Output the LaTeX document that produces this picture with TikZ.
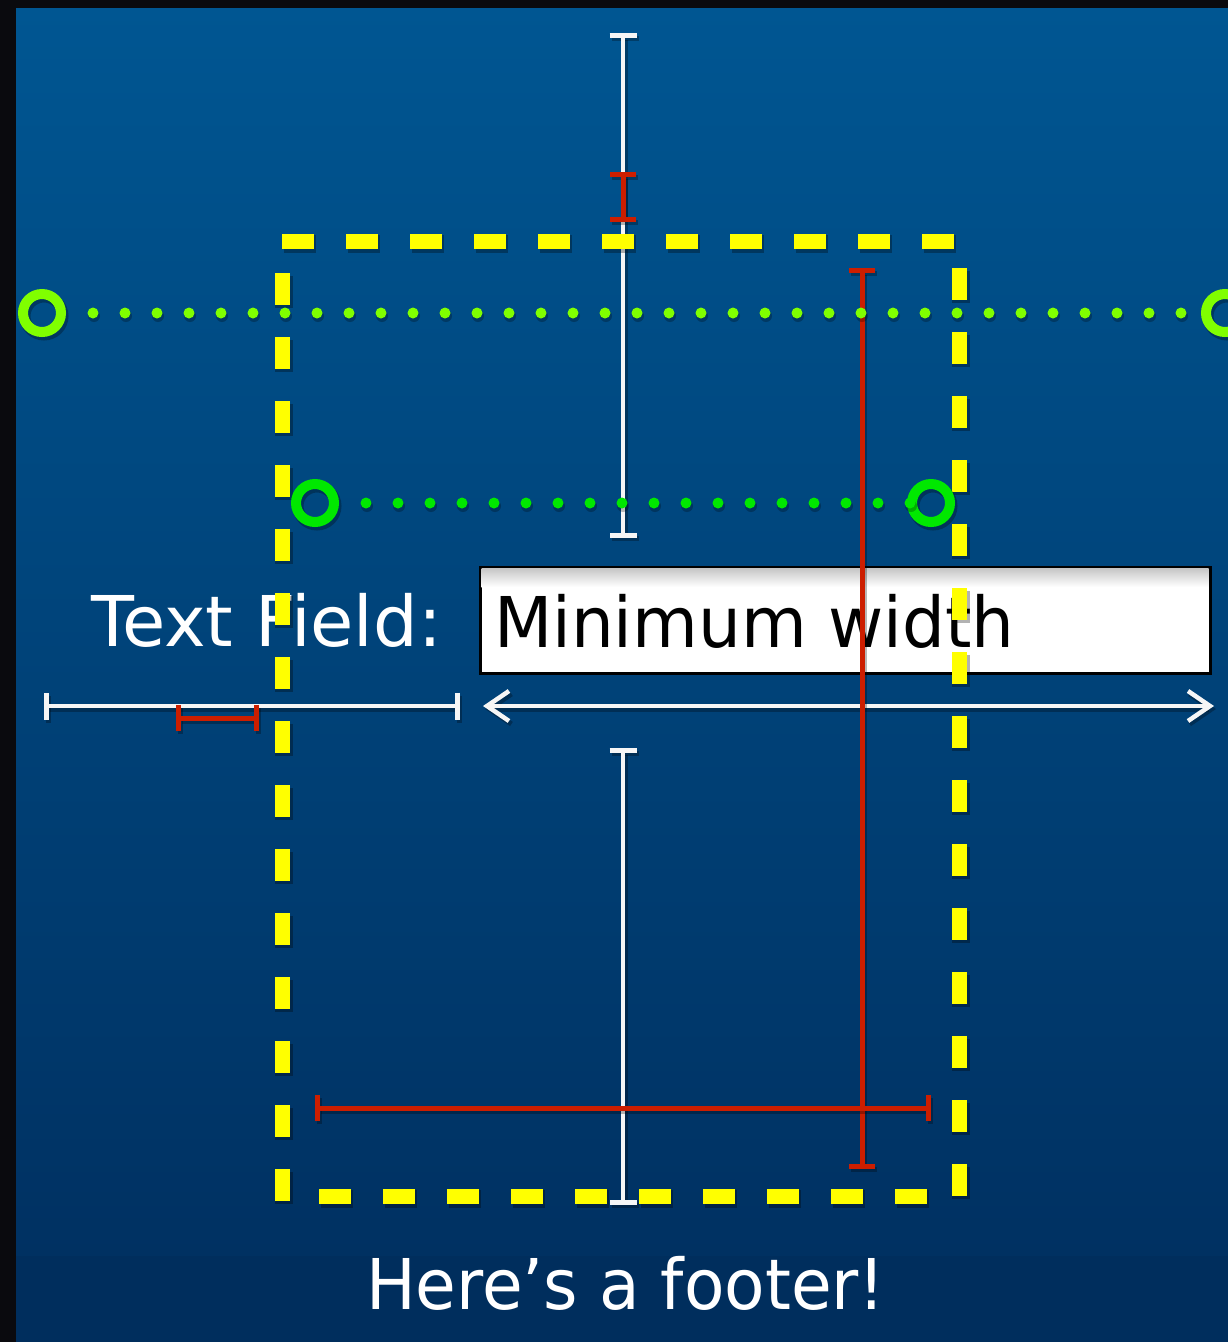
\documentclass[tikz,border=0pt]{standalone}
\usepackage{fontspec}
\newfontfamily\uifont[FakeStretch=0.965]{DejaVu Sans}
\newfontfamily\lblfont[FakeStretch=1.005]{DejaVu Sans}
\newfontfamily\footfont[FakeStretch=0.945]{DejaVu Sans}
\usetikzlibrary{arrows.meta}
\definecolor{frame}{RGB}{10,10,14}
\definecolor{bgtop}{RGB}{0,86,146}
\definecolor{bgmid}{RGB}{0,49,98}
\definecolor{bgfoot}{RGB}{0,46,93}
\definecolor{ylw}{RGB}{255,255,0}
\definecolor{grnA}{RGB}{128,255,0}
\definecolor{grnB}{RGB}{0,232,0}
\definecolor{redI}{RGB}{204,30,0}
\definecolor{offwhite}{RGB}{246,246,246}
\tikzset{
  shd/.style={preaction={draw=black, draw opacity=0.28, line width=#1, transform canvas={shift={(2,3)}}}},
  uitext/.style={inner sep=0pt, outer sep=0pt},
  wbeam/.style={shd=5pt, draw=offwhite, line width=4.5pt,
    {Bar[width=27pt,line width=5pt]}-{Bar[width=27pt,line width=5pt]}},
  rbeam/.style={shd=5pt, draw=redI, line width=5pt,
    {Bar[width=26pt,line width=5pt]}-{Bar[width=26pt,line width=5pt]}},
  warrow/.style={shd=5pt, draw=offwhite, line width=4.5pt,
    {Straight Barb[length=22pt,width=30pt]}-{Straight Barb[length=22pt,width=30pt]}},
  ydash/.style={draw=ylw, line width=15pt, dash pattern=on 32pt off 32pt,
    preaction={draw=black, draw opacity=0.3, line width=18pt, dash pattern=on 32pt off 32pt, transform canvas={shift={(2,3)}}}},
  ringA/.style={shd=11pt, circle, draw=grnA, line width=10pt, minimum size=38pt, inner sep=0pt, outer sep=0pt},
  ringB/.style={shd=11pt, circle, draw=grnB, line width=10pt, minimum size=38pt, inner sep=0pt, outer sep=0pt},
  dotsA/.style={draw=grnA, line width=11pt, line cap=round, dash pattern=on 0pt off 32pt,
    preaction={draw=black, draw opacity=0.25, line width=12pt, line cap=round, dash pattern=on 0pt off 32pt, transform canvas={shift={(1,3)}}}},
  dotsB/.style={draw=grnB, line width=11pt, line cap=round, dash pattern=on 0pt off 32pt,
    preaction={draw=black, draw opacity=0.25, line width=12pt, line cap=round, dash pattern=on 0pt off 32pt, transform canvas={shift={(1,3)}}}},
  fieldbox/.style={draw=black, line width=3pt, fill=white, minimum width=730pt, minimum height=106pt, inner sep=0pt, outer sep=0pt}
}
\begin{document}
\begin{tikzpicture}[x=1pt,y=-1pt]
\path[use as bounding box] (0,0) rectangle (1228,1342);
\clip (0,0) rectangle (1228,1342);
% background
\fill[frame] (0,0) rectangle (1228,1342);
\shade[top color=bgtop, bottom color=bgmid] (16,8) rectangle (1228,1256);
\fill[bgfoot] (16,1256) rectangle (1228,1342);

% label and text field
\node[uitext, text=white, anchor=base west, font=\lblfont\fontsize{70}{84}\selectfont] (lbl) at (91,646) {Text Field:};
\node[fieldbox] (field) at (845,620) {};
\shade[top color=black!22, bottom color=white] ([shift={(1.5,1.5)}]field.north west) rectangle ([shift={(-1.5,20)}]field.north east);
\node[uitext, text=black, anchor=base west, font=\uifont\fontsize{70}{84}\selectfont] (val) at (494,647) {Minimum width};

% footer
\node[uitext, text=white, anchor=base west, font=\footfont\fontsize{70}{84}\selectfont] (foot) at (366,1309) {Here’s a footer!};

% white measures
\coordinate (tA) at (623,33);
\coordinate (tB) at (623,538);
\draw[wbeam] (tA) -- (tB);
\coordinate (bA) at (623,748);
\coordinate (bB) at (623,1205);
\draw[wbeam] (bA) -- (bB);
\coordinate (hA) at (44,706);
\coordinate (hB) at (460,706);
\draw[wbeam] (hA) -- (hB);
\coordinate (aL) at (483,706);
\coordinate (aR) at (1214,706);
\draw[warrow] (aL) -- (aR);

% red measures
\coordinate (rA) at (623,172);
\coordinate (rB) at (623,222);
\draw[rbeam] (rA) -- (rB);
\coordinate (rvA) at (862,268);
\coordinate (rvB) at (862,1169);
\draw[rbeam] (rvA) -- (rvB);
\coordinate (rhA) at (315,1108);
\coordinate (rhB) at (931,1108);
\draw[rbeam] (rhA) -- (rhB);
\coordinate (rsA) at (176,718);
\coordinate (rsB) at (259,718);
\draw[rbeam] (rsA) -- (rsB);

% yellow dashed frame
\coordinate (yT1) at (282,241);  \coordinate (yT2) at (959,241);
\coordinate (yR1) at (959,268);  \coordinate (yR2) at (959,1196);
\coordinate (yB1) at (319,1196); \coordinate (yB2) at (940,1196);
\coordinate (yL1) at (282,273);  \coordinate (yL2) at (282,1201);
\draw[ydash] (yT1) -- (yT2);
\draw[ydash] (yR1) -- (yR2);
\draw[ydash] (yB1) -- (yB2);
\draw[ydash] (yL1) -- (yL2);

% green guides
\node[ringA] (gL) at (42,313) {};
\node[ringA] (gR) at (1225,313) {};
\draw[dotsA, shorten <=32pt, shorten >=23pt] (gL) -- (gR);
\node[ringB] (hL) at (315,503) {};
\node[ringB] (hR) at (931,503) {};
\draw[dotsB, shorten <=32pt, shorten >=1pt] (hL) -- (hR);
\end{tikzpicture}
\end{document}
